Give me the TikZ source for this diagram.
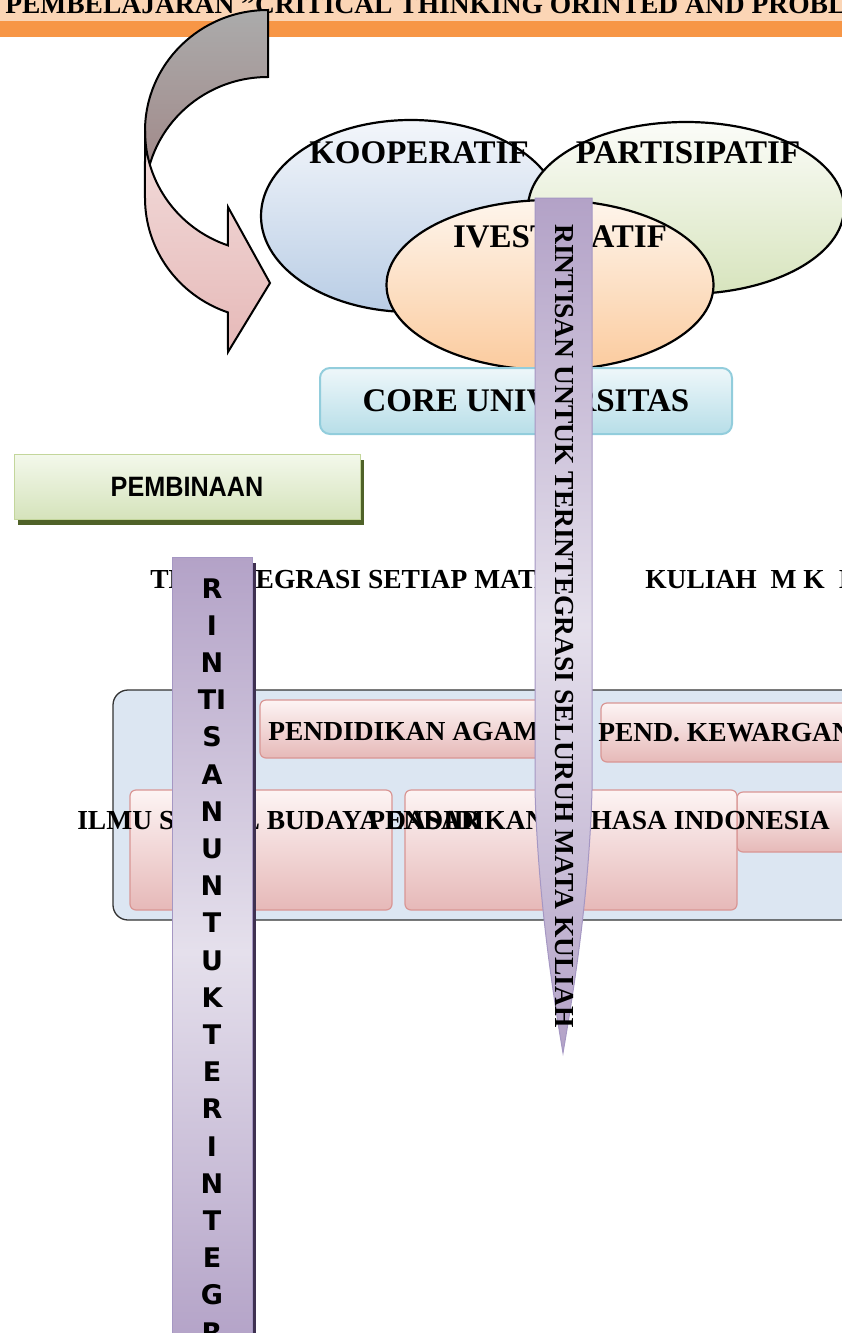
\documentclass[tikz,border=0pt]{standalone}
\usepackage{fontspec}
\setmainfont{Liberation Serif}
\newfontfamily\narrowfont{Liberation Sans}
\newfontfamily\stackfont{DejaVu Sans}
\usepackage{xcolor}
\usepackage{graphicx}
\usetikzlibrary{shapes.geometric, shadows}

\definecolor{bannerPeach}{HTML}{FBD5B5}
\definecolor{bannerOrange}{HTML}{F79646}
\definecolor{backTop}{HTML}{ABABAB}
\definecolor{backBot}{HTML}{A08484}
\definecolor{frontTop}{HTML}{F2DCDB}
\definecolor{frontBot}{HTML}{E6B9B8}
\definecolor{koopTop}{HTML}{F3F6FB}
\definecolor{koopBot}{HTML}{B9CDE5}
\definecolor{partTop}{HTML}{FBFCF8}
\definecolor{partBot}{HTML}{D7E4BD}
\definecolor{invTop}{HTML}{FEF5EC}
\definecolor{invBot}{HTML}{FBCB9E}
\definecolor{coreTop}{HTML}{EEF7FA}
\definecolor{coreBot}{HTML}{B7DEE8}
\definecolor{coreLine}{HTML}{92CDDC}
\definecolor{pembTop}{HTML}{F3F8EB}
\definecolor{pembBot}{HTML}{D5E3BB}
\definecolor{pembLine}{HTML}{C3D69B}
\definecolor{pembShadow}{HTML}{4F6228}
\definecolor{contFill}{HTML}{DCE6F2}
\definecolor{contLine}{HTML}{333333}
\definecolor{boxTop}{HTML}{FDF4F4}
\definecolor{boxBot}{HTML}{E6B9B8}
\definecolor{boxLine}{HTML}{D99694}
\definecolor{barDark}{HTML}{B3A2C7}
\definecolor{barLight}{HTML}{E5E0EC}
\definecolor{barLine}{HTML}{A597C3}
\definecolor{barShadow}{HTML}{3F3151}

\begin{document}
\begin{tikzpicture}[x=1pt,y=-1pt,semithick]
        \tikzstyle{big}=[font=\fontsize{33}{38}\selectfont\bfseries, inner sep=0pt]
        \tikzstyle{txt}=[font=\fontsize{27.5}{32}\selectfont\bfseries, inner sep=0pt]
        \tikzstyle{oval}=[ellipse, draw=black, line width=2.2pt, inner sep=0pt]
        \tikzstyle{mkbox}=[draw=boxLine, line width=1.2pt, rounded corners=6pt, top color=boxTop, bottom color=boxBot, inner sep=0pt]
        \tikzstyle{purplebar}=[draw=barLine, line width=1pt, top color=barDark, bottom color=barDark, middle color=barLight]

        \useasboundingbox (0,0) rectangle (842,1333);

        % judul
        \fill[bannerPeach] (0,0) rectangle (842,21);
        \fill[bannerOrange] (0,21) rectangle (842,37);
        \node[txt, anchor=base west] (TITLE) at (5,13) {PEMBELAJARAN "CRITICAL THINKING ORINTED AND PROBLEM};

        % panah lengkung
        \draw[line width=2pt, top color=backTop, bottom color=backBot]
            (268,10) arc[start angle=-90, end angle=-180, x radius=123, y radius=121]
            -- (145,198) arc[start angle=180, end angle=270, x radius=123, y radius=121] -- cycle;
        \draw[line width=2pt, top color=frontTop, bottom color=frontBot]
            (145,131) arc[start angle=180, end angle=109, x radius=123, y radius=121]
            -- (228,207) -- (270,283) -- (228,352) -- (227.95,312.4)
            arc[start angle=109, end angle=180, x radius=123, y radius=121] -- cycle;

        \node[oval, minimum width=300pt, minimum height=192pt, top color=koopTop, bottom color=koopBot] (KOOP) at (411,216) {};
        \node[oval, minimum width=316pt, minimum height=172pt, top color=partTop, bottom color=partBot] (PART) at (686,208) {};
        \node[oval, minimum width=327pt, minimum height=170pt, top color=invTop, bottom color=invBot] (INV) at (550,285) {};
        \node[big] (KOOPT) at (419,153) {KOOPERATIF};
        \node[big] (PARTT) at (688,153) {PARTISIPATIF};
        \node[big] (INVT) at (560,237) {IVESTIGATIF};

        \node[big, draw=coreLine, line width=2pt, rounded corners=10pt, top color=coreTop, bottom color=coreBot, minimum width=412pt, minimum height=66pt] (CORE) at (526,401) {CORE UNIVERSITAS};

        \node[draw=pembLine, line width=1pt, top color=pembTop, bottom color=pembBot, minimum width=346pt, minimum height=65pt,
              drop shadow={shadow xshift=4pt, shadow yshift=-5pt, fill=pembShadow, opacity=1},
              font=\narrowfont\fontsize{28}{32}\selectfont\bfseries] (PEMB) at (187,487) {\scalebox{0.9}[1]{PEMBINAAN}};

        \node[txt, anchor=base west] (TERI) at (150,588) {TERINTEGRASI SETIAP MATA};
        \node[txt, anchor=base west] (KUL) at (645,588) {KULIAH\ \ M K\ \ I};

        % mata kuliah
        \node[draw=contLine, fill=contFill, line width=1.3pt, rounded corners=15pt, minimum width=767pt, minimum height=230pt] (CONT) at (496.5,805) {};
        \node[mkbox, minimum width=288pt, minimum height=58pt] (AGAMA) at (404,729) {};
        \node[mkbox, minimum width=260pt, minimum height=59pt] (KEW) at (731,732.5) {};
        \node[mkbox, minimum width=130pt, minimum height=60pt] (MKU) at (802,822) {};
        \node[mkbox, minimum width=262pt, minimum height=120pt] (ISBD) at (261,850) {};
        \node[mkbox, minimum width=332pt, minimum height=120pt] (BINDO) at (571,850) {};
        \node[txt, anchor=base west] (AGAMAT) at (268,740) {PENDIDIKAN AGAMA};
        \node[txt, anchor=base west] (KEWT) at (598,741) {PEND. KEWARGANEGARAAN};
        \node[txt, anchor=base west] (ISBDT) at (77,829) {ILMU SOSIAL BUDAYA DASAR};
        \node[txt, anchor=base west] (BINDOT) at (368,829) {PENDIDIKAN BAHASA INDONESIA};

        % rintisan
        \draw[purplebar] (535,198) -- (592,198) -- (592,790) .. controls (589,900) and (572,1000) .. (563,1053)
            .. controls (554,1000) and (538,900) .. (535,790) -- cycle;
        \node[txt, rotate=-90] (RBART) at (564,626) {RINTISAN UNTUK TERINTEGRASI SELURUH MATA KULIAH};

        \node[purplebar, line width=0.8pt, minimum width=80pt, minimum height=790pt, inner sep=0pt,
              drop shadow={shadow xshift=4pt, shadow yshift=-6pt, fill=barShadow, opacity=1}] (LBAR) at (212,952) {};
        \node[font=\stackfont\fontsize{27}{37.2}\selectfont\bfseries, align=center, anchor=north, inner sep=0pt] (LBART) at (212,578)
            {R\\I\\N\\TI\\S\\A\\N\\U\\N\\T\\U\\K\\T\\E\\R\\I\\N\\T\\E\\G\\R};
\end{tikzpicture}
\end{document}
